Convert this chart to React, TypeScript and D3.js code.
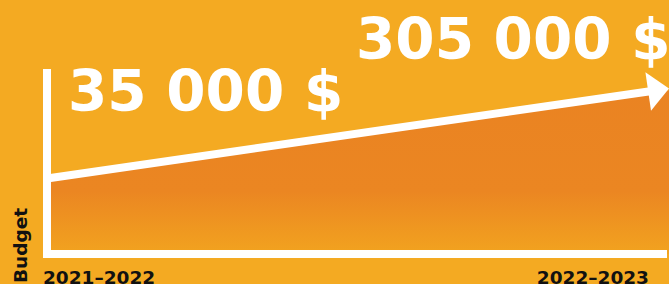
import { useEffect, useRef } from "react";
import * as d3 from "d3";

// periods on the x axis and the budget for each one
const periods = ["2021–2022", "2022–2023"];
const budgets = [35000, 305000];
const budgetLabels = ["35 000 $", "305 000 $"];
const axisTitle = "Budget";

export default function App() {
  const ref = useRef<SVGSVGElement | null>(null);

  useEffect(() => {
    const width = 669,
      height = 284;
    const svg = d3.select(ref.current);
    svg.selectAll("*").remove();

    const bg = "#F4AA22";
    const font = "'DejaVu Sans', sans-serif";

    svg.append("rect").attr("width", width).attr("height", height).attr("fill", bg);

    const x = d3.scalePoint<string>().domain(periods).range([47, width]);
    const y = d3.scaleLinear().domain([budgets[0], budgets[1]]).range([178.5, 88.5]);
    const base = 254;

    const data = periods.map((p, i) => ({ p, v: budgets[i] }));

    // gradient for the filled area
    const grad = svg
      .append("defs")
      .append("linearGradient")
      .attr("id", "areaFill")
      .attr("gradientUnits", "userSpaceOnUse")
      .attr("x1", 0)
      .attr("x2", 0)
      .attr("y1", y(budgets[1]))
      .attr("y2", base);
    grad.append("stop").attr("offset", 0).attr("stop-color", "#EA8322");
    grad.append("stop").attr("offset", 0.62).attr("stop-color", "#EB8622");
    grad.append("stop").attr("offset", 1).attr("stop-color", "#F2A31F");

    // area under the line
    svg
      .append("path")
      .datum(data)
      .attr("fill", "url(#areaFill)")
      .attr(
        "d",
        d3
          .area<{ p: string; v: number }>()
          .x(d => x(d.p)!)
          .y0(base)
          .y1(d => y(d.v) + 2)
      );

    // line with arrow head
    const x0 = x(periods[0])!,
      y0 = y(budgets[0]);
    const x1 = x(periods[1])!,
      y1 = y(budgets[1]);
    const len = Math.hypot(x1 - x0, y1 - y0);
    const ux = (x1 - x0) / len,
      uy = (y1 - y0) / len;
    const headLen = 21,
      headHalf = 19.5;
    const bx = x1 - ux * headLen,
      by = y1 - uy * headLen;

    svg
      .append("line")
      .attr("x1", x0)
      .attr("y1", y0)
      .attr("x2", bx + ux * 2)
      .attr("y2", by + uy * 2)
      .attr("stroke", "#fff")
      .attr("stroke-width", 8);

    svg
      .append("path")
      .attr(
        "d",
        `M${x1},${y1}L${bx - uy * headHalf},${by + ux * headHalf}L${bx + uy * headHalf},${by - ux * headHalf}Z`
      )
      .attr("fill", "#fff");

    // axes (plain white bars)
    svg
      .append("line")
      .attr("x1", x0)
      .attr("x2", x0)
      .attr("y1", 69)
      .attr("y2", base + 4)
      .attr("stroke", "#fff")
      .attr("stroke-width", 8);
    svg
      .append("line")
      .attr("x1", x0 - 4)
      .attr("x2", 667)
      .attr("y1", base)
      .attr("y2", base)
      .attr("stroke", "#fff")
      .attr("stroke-width", 8);

    // big value labels
    svg
      .selectAll("text.value")
      .data(data)
      .enter()
      .append("text")
      .attr("class", "value")
      .attr("x", (d, i) => (i === 0 ? x(d.p)! + 21 : x(d.p)! - 313))
      .attr("y", (d, i) => (i === 0 ? y(d.v) - 67.5 : y(d.v) - 30))
      .attr("fill", "#fff")
      .attr("font-family", font)
      .attr("font-weight", "bold")
      .attr("font-size", 56.5)
      .text((d, i) => budgetLabels[i]);

    // period labels
    svg
      .selectAll("text.period")
      .data(periods)
      .enter()
      .append("text")
      .attr("class", "period")
      .attr("x", (d, i) => (i === 0 ? x(d)! - 4 : x(d)! - 20))
      .attr("y", 283.5)
      .attr("text-anchor", (d, i) => (i === 0 ? "start" : "end"))
      .attr("fill", "#111")
      .attr("font-family", font)
      .attr("font-weight", "bold")
      .attr("font-size", 18.5)
      .text(d => d);

    // y axis title
    svg
      .append("text")
      .attr("transform", "translate(27,283) rotate(-90)")
      .attr("fill", "#111")
      .attr("font-family", font)
      .attr("font-weight", "bold")
      .attr("font-size", 18.5)
      .text(axisTitle);
  }, []);

  return (
    <svg
      ref={ref}
      width={669}
      height={284}
      style={{ position: "absolute", left: 0, top: 0, display: "block" }}
    />
  );
}
